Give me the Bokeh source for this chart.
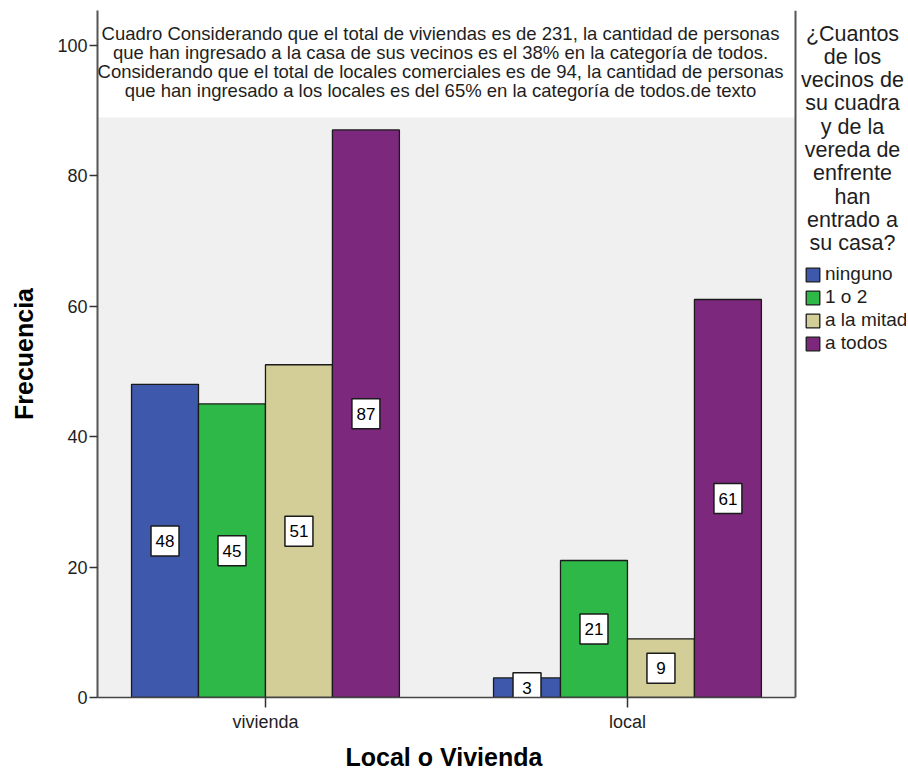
from bokeh.plotting import figure
from bokeh.models import (ColumnDataSource, Range1d, FixedTicker, BoxAnnotation, Span,
                          Label, Legend, LegendItem, Title)
from bokeh.transform import dodge
from bokeh.core.properties import value
from bokeh.embed import file_html
from bokeh.resources import INLINE

# ---- data ----
categories = ["vivienda", "local"]
series_names = ["ninguno", "1 o 2", "a la mitad", "a todos"]
ninguno = [48, 3]
uno_o_dos = [45, 21]
a_la_mitad = [51, 9]
a_todos = [87, 61]
series_values = [ninguno, uno_o_dos, a_la_mitad, a_todos]
series_colors = ["#3E58AC", "#2EB848", "#D3CE97", "#7C287D"]
y_ticks = [0, 20, 40, 60, 80, 100]

title_lines = [
    "Cuadro Considerando que el total de viviendas es de 231, la cantidad de personas",
    "que han ingresado a la casa de sus vecinos es el 38% en la categoría de todos.",
    "Considerando que el total de locales comerciales es de 94, la cantidad de personas",
    "que han ingresado a los locales es del 65% en la categoría de todos.de texto",
]
legend_title_lines = ["¿Cuantos", "de los", "vecinos de", "su cuadra", "y de la",
                      "vereda de", "enfrente", "han", "entrado a", "su casa?"]

FONT = "Liberation Sans"
TXT = "#1e1e1e"

# layout constants (pixels / data units of the plotting area)
PX_PER_CAT = 362.0
X_START = -0.464
AREA_W = 698          # width of the grey plotting area
FRAME_W = 809         # frame also hosts the legend at the right
AREA_RIGHT = X_START + AREA_W / PX_PER_CAT
X_END = X_START + FRAME_W / PX_PER_CAT
Y_MAX = 105.3
TITLE_BOX_BOTTOM = 88.9

cat_pos = list(range(len(categories)))

p = figure(
    x_range=Range1d(X_START, X_END),
    y_range=Range1d(0, Y_MAX),
    frame_width=FRAME_W, frame_height=687,
    min_border_left=97, min_border_right=0, min_border_top=10, min_border_bottom=60,
    output_backend="svg", toolbar_location=None,
)
p.background_fill_color = "white"
p.border_fill_color = "white"
p.outline_line_color = None
p.grid.visible = False

# grey plotting area
p.add_layout(BoxAnnotation(right=AREA_RIGHT, top=TITLE_BOX_BOTTOM, fill_color="#f0f0f0",
                           fill_alpha=1.0, line_color=None, level="underlay"))
# right border of the plotting area
p.add_layout(Span(location=AREA_RIGHT, dimension="height", line_color="#555555",
                  line_width=2, level="underlay"))

# y axis
ya = p.yaxis[0]
ya.ticker = FixedTicker(ticks=y_ticks)
ya.minor_tick_line_color = None
ya.major_tick_in = 0
ya.major_tick_out = 8
ya.major_tick_line_color = "#333333"
ya.major_tick_line_width = 1.5
ya.axis_line_color = "#555555"
ya.axis_line_width = 2
ya.major_label_text_font = FONT
ya.major_label_text_font_size = "18px"
ya.major_label_text_color = TXT
ya.major_label_standoff = 2
ya.axis_label = "Frecuencia"
ya.axis_label_text_font = FONT
ya.axis_label_text_font_size = "25px"
ya.axis_label_text_font_style = "bold"
ya.axis_label_text_color = "black"
ya.axis_label_standoff = 16

# x axis
xa = p.xaxis[0]
xa.ticker = FixedTicker(ticks=cat_pos)
xa.major_label_overrides = {i: c for i, c in zip(cat_pos, categories)}
xa.minor_tick_line_color = None
xa.bounds = (X_START, AREA_RIGHT)
xa.major_tick_in = 0
xa.major_tick_out = 10
xa.major_tick_line_color = "#333333"
xa.major_tick_line_width = 1.5
xa.axis_line_color = "#444444"
xa.axis_line_width = 1.5
xa.major_label_text_font = FONT
xa.major_label_text_font_size = "18px"
xa.major_label_text_color = TXT
xa.major_label_standoff = 4

p.add_layout(Title(text="Local o Vivienda", align="left", offset=248, standoff=12,
                   text_font=FONT, text_font_size="25px", text_font_style="bold",
                   text_color="black"), "below")

bar_w = 0.185
offsets = [-1.5 * bar_w, -0.5 * bar_w, 0.5 * bar_w, 1.5 * bar_w]
items = []
for name, vals, col, off in zip(series_names, series_values, series_colors, offsets):
    src = ColumnDataSource(dict(pos=cat_pos, val=vals,
                                mid=[v / 2 for v in vals],
                                lbl=[str(v) for v in vals]))
    xx = dodge("pos", off)
    r = p.vbar(x=xx, top="val", width=bar_w, source=src,
               fill_color=col, line_color="#1a1a1a", line_width=1.3)
    items.append(LegendItem(label=name, renderers=[r]))
    # value label boxes
    p.rect(x=xx, y="mid", width=28, height=30, width_units="screen", height_units="screen",
           source=src, fill_color="white", line_color="#1a1a1a", line_width=1.5)
    p.text(x=xx, y="mid", text="lbl", source=src, text_align="center", text_baseline="middle",
           text_font=value(FONT), text_font_size="17px", text_color="black")

title_y = [664, 645, 626, 607]
for t, yy in zip(title_lines, title_y):
    p.add_layout(Label(x=343, y=yy, x_units="screen", y_units="screen", text=t,
                       text_align="center", text_baseline="middle", text_font=FONT,
                       text_font_size="18.5px", text_color=TXT))

for i, t in enumerate(legend_title_lines):
    p.add_layout(Label(x=755, y=664 - 23.3 * i, x_units="screen", y_units="screen", text=t,
                       text_align="center", text_baseline="middle", text_font=FONT,
                       text_font_size="21.5px", text_color=TXT))

legend = Legend(items=items, location=(707, 343), padding=0, margin=0, spacing=1,
                glyph_width=17, glyph_height=17, label_standoff=4,
                label_text_font=FONT, label_text_font_size="19px", label_text_color=TXT,
                border_line_color=None, background_fill_alpha=0)
p.add_layout(legend)

open("out.html", "w").write(file_html(p, INLINE))
